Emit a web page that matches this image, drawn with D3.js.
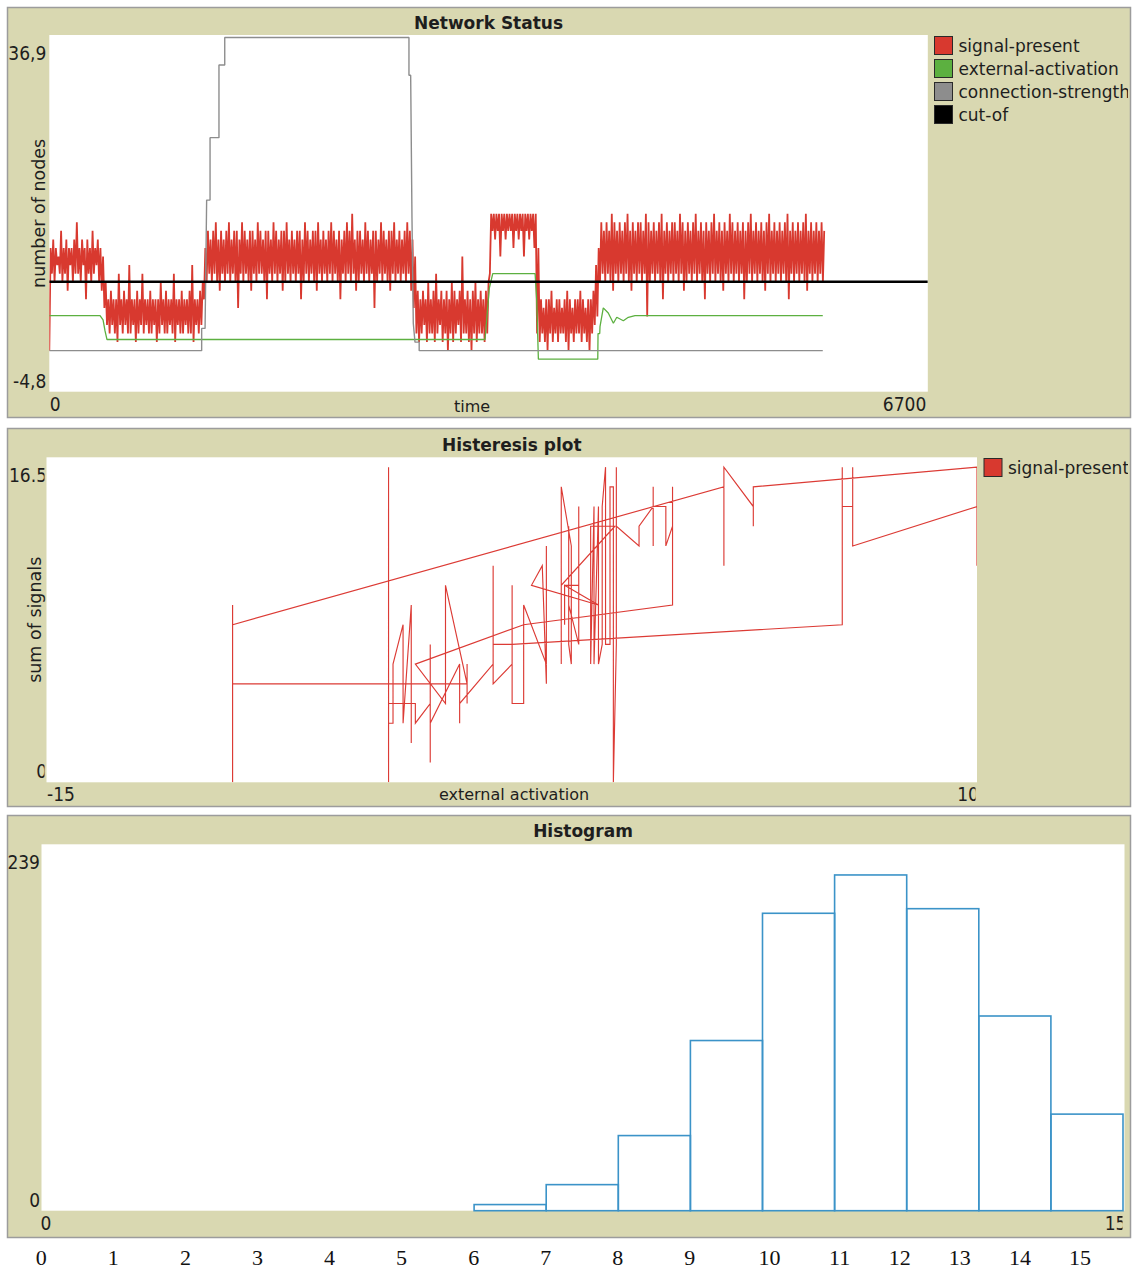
<!DOCTYPE html>
<html>
<head>
<meta charset="utf-8">
<title>Network Status</title>
<script src="https://cdn.jsdelivr.net/npm/d3@7"></script>
<style>
  body { margin: 0; background: #fff; }
  svg { display: block; }
</style>
</head>
<body>
<div id="chart"></div>
<script>
// ---------- Network Status ----------
const netTimeRange = [0, 6700]
const netValueRange = [-4.8, 36.9]
const netXLabels = ["0", "6700"]
const netYLabels = ["-4,8", "36,9"]

// signal-present: lowest and highest reading in each 20-tick window, by regime
const signalWindow = 20
const signalLowA = [0, 9, 8, 10, 9, 8, 9, 7, 10, 8, 9, 9, 8, 10, 6, 9, 8, 9, 10, 8, 7]
const signalHighA = [12, 13, 12, 11, 14, 12, 13, 12, 12, 13, 15, 12, 13, 12, 13, 12, 14, 12, 13, 12, 11]
const signalLowB = [5, 3, 2, 3, 2, 1, 3, 2, 3, 2, 2, 3, 1, 2, 3, 2, 3, 2, 2, 3,
                    1, 2, 3, 2, 2, 3, 2, 1, 3, 2, 2, 3, 2, 2, 1, 3, 2, 3]
const signalHighB = [8, 6, 7, 6, 6, 9, 6, 7, 6, 10, 6, 6, 7, 6, 9, 6, 6, 7, 6, 6,
                     6, 8, 6, 7, 6, 6, 9, 6, 6, 7, 6, 6, 7, 10, 6, 6, 7, 8]
const signalLowC = [6, 8, 9, 8, 9, 8, 7, 9, 8, 9, 8, 9, 8, 5, 9, 8, 9, 8, 7, 9,
                    8, 9, 9, 8, 6, 9, 8, 9, 8, 9, 7, 8, 9, 8, 9, 8, 9, 6, 8, 9,
                    8, 9, 8, 7, 9, 8, 9, 8, 9, 8, 9, 8, 6, 9, 8, 9, 8, 9, 7, 8,
                    9, 8, 9, 8, 9, 5, 8, 9, 8, 9, 8, 7, 9, 8, 9, 8, 9, 8, 9, 7]
const signalHighC = [12, 14, 13, 14, 15, 13, 14, 13, 14, 15, 13, 14, 14, 13, 15, 14, 13, 14, 14, 13,
                     15, 14, 13, 14, 14, 13, 15, 14, 13, 14, 14, 15, 13, 14, 13, 14, 14, 13, 15, 14,
                     13, 14, 14, 15, 13, 14, 13, 14, 15, 14, 13, 14, 13, 14, 15, 14, 16, 13, 14, 14,
                     13, 15, 14, 13, 14, 14, 13, 15, 14, 13, 14, 14, 15, 13, 14, 13, 14, 15, 14, 13]
const signalLowD = [5, 2, 1, 2, 3, 1, 2, 2, 1, 2, 3, 1, 2, 0, 2, 1, 2, 3, 1, 2,
                    2, 1, 0, 2, 1, 2, 2, 1, 2]
const signalHighD = [11, 7, 6, 7, 6, 8, 6, 7, 9, 6, 7, 6, 7, 6, 8, 7, 6, 7, 11, 6,
                     7, 6, 7, 8, 6, 7, 6, 7, 8]
const signalLowE = [9, 14, 13, 14, 11, 14, 13, 14, 14, 12, 14, 13, 14, 11, 14, 13, 14, 12]
const signalHighE = [16, 16, 16, 16, 16, 16, 16, 16, 16, 16, 16, 16, 16, 16, 16, 16, 16, 16]
const signalLowF = [2, 1, 2, 1, 0, 2, 1, 2, 1, 2, 2, 1, 0, 2, 1, 2, 2, 1, 2, 1, 0, 2, 3, 4]
const signalHighF = [12, 6, 5, 6, 6, 7, 5, 6, 6, 5, 6, 7, 6, 5, 6, 6, 7, 6, 5, 6, 6, 7, 10, 12]
const signalLowG = [8, 9, 8, 9, 8, 7, 9, 8, 9, 8, 9, 8, 7, 9, 8, 9, 8, 9, 4, 8,
                    9, 8, 9, 8, 6, 9, 8, 9, 8, 9, 8, 9, 7, 8, 9, 8, 9, 8, 9, 8,
                    6, 9, 8, 9, 8, 9, 8, 7, 9, 8, 9, 8, 9, 8, 9, 6, 8, 9, 8, 9,
                    8, 9, 8, 7, 9, 8, 9, 8, 9, 8, 9, 8, 6, 9, 8, 9, 8, 9, 8, 7,
                    9, 8, 9, 8, 9, 8]
const signalHighG = [15, 14, 15, 14, 16, 15, 14, 15, 14, 15, 16, 14, 15, 14, 15, 15, 14, 16, 15, 14,
                     15, 14, 15, 16, 14, 15, 14, 15, 15, 14, 16, 15, 14, 15, 14, 15, 16, 14, 15, 14,
                     15, 14, 15, 16, 14, 15, 14, 15, 14, 16, 15, 14, 15, 14, 15, 14, 15, 16, 14, 15,
                     14, 15, 14, 15, 16, 14, 15, 14, 15, 14, 15, 16, 14, 15, 14, 15, 14, 15, 16, 14,
                     15, 14, 15, 14, 15, 14]

// [tick, value]
const externalActivation = [[0, 4.1], [387, 4.1], [410, 3.6], [425, 2.3], [440, 1.3], [3323, 1.3],
  [3356, 7.3], [3382, 9.0], [3705, 9.0], [3717, 6.0], [3730, -1.0], [4183, -1.0], [4185, 2.0],
  [4198, 2.0], [4200, 2.8], [4225, 5.0], [4263, 4.4], [4302, 3.2], [4328, 3.9], [4378, 3.5],
  [4416, 3.9], [4467, 4.1], [5899, 4.1]]
const connectionStrength = [[0, 0], [1162, 0], [1162, 2.6], [1188, 2.6], [1200, 17.6], [1226, 17.6],
  [1226, 24.9], [1294, 24.9], [1294, 33.4], [1338, 33.4], [1338, 36.6], [2743, 36.6], [2743, 32.2],
  [2756, 32.2], [2766, 15.5], [2776, 3.2], [2789, 1.0], [2821, 1.0], [2821, 0], [5899, 0]]
const cutOff = [[0, 8.05], [6700, 8.05]]

const netPens = ["signal-present", "external-activation", "connection-strength", "cut-of"]
const netColors = ["#d8392f", "#5cb040", "#8d8d8d", "#000000"]

// ---------- Histeresis plot ----------
const hystXRange = [-15, 10]
const hystYRange = [0, 16.5]
const hystXLabels = ["-15", "10"]
const hystYLabels = ["0", "16.5"]
const hystActivation = [-5.81, -5.81, -5.81, -5.69, -5.69, -5.42, -5.42, -5.20, -5.20, -5.20,
  -5.81, -5.09, -5.09, -4.69, -4.69, -4.69, -4.69, -3.90, -3.90, -3.90,
  -3.00, -3.00, -3.00, -2.49, -2.49, -2.49, -2.18, -2.18, -1.57, -1.57,
  -1.57, -1.68, -1.97, -0.17, -1.08, -1.08, -1.08, -0.70, -0.70, -0.70,
  -0.97, -0.97, -0.97, -0.90, -0.90, -1.17, -1.17, -1.17, 0.27, -0.38,
  -0.38, -0.29, -0.29, -0.17, -0.17, -0.07, -0.07, 0.02, 0.02, 0.14,
  0.14, 0.23, 0.23, 0.31, 0.31, 0.31, 0.92, 0.92, 1.30, 1.30,
  1.30, 1.30, 1.64, 1.64, 1.82, 1.82, 1.82, -2.18, -5.09, -4.28,
  -4.28, -3.70, -3.70, -3.70, -3.70, -4.33, -10, -10, -10, -10,
  3.20, 3.20, 3.20, 3.20, 3.99, 3.99, 3.99, 10, 10, 10,
  6.66, 6.66, 6.66, 6.38, 6.38, 6.38, -2.49, -3.00]
const hystSignals = [16, 0, 3, 3, 6, 8, 3, 9, 2, 4,
  4, 4, 3, 4, 7, 1, 3, 6, 3, 4,
  6, 11, 5, 6, 10, 4, 4, 9, 6, 12,
  5, 11, 10, 9, 10, 8, 10, 10, 14, 7,
  9, 13, 7, 6, 12, 15, 6, 10, 13, 13,
  6, 14, 6, 14, 6, 7, 14, 16, 7, 7,
  15, 15, 0, 7, 16, 13, 12, 13, 14, 15,
  12, 14, 14, 12, 13, 15, 9, 8, 6, 4,
  10, 5, 6, 4, 5, 5, 5, 0, 9, 8,
  15, 16, 11, 16, 14, 13, 15, 16, 11, 14,
  12, 16, 14, 14, 16, 8, 7, 7]

// ---------- Histogram ----------
const histRange = [0, 15]
const histYRange = [0, 239]
const histXLabels = ["0", "15"]
const histYLabels = ["0", "239"]
const histCounts = [0, 0, 0, 0, 0, 0, 4, 17, 49, 111, 194, 219, 197, 127, 63]
const bottomTicks = d3.range(0, 16)

// ---------- page ----------
const BEIGE = "#d9d8b1"
const INK = "#1e1e1e"
const SANS = "'DejaVu Sans', Verdana, sans-serif"
const NUM = "'Liberation Sans Narrow', 'DejaVu Sans Condensed', sans-serif"

const svg = d3.select("#chart").append("svg")
  .attr("width", 1135)
  .attr("height", 1271)
  .style("background", "#fff")

const defs = svg.append("defs")
function clipRect(id, x0, y0, x1, y1) {
  defs.append("clipPath").attr("id", id).append("rect")
    .attr("x", x0).attr("y", y0).attr("width", x1 - x0).attr("height", y1 - y0)
  return "url(#" + id + ")"
}

function frame(top, bottom, title, p, titleBase) {
  svg.append("rect")
    .attr("x", 7.5).attr("y", top + 0.5)
    .attr("width", 1123).attr("height", bottom - top)
    .attr("fill", BEIGE).attr("stroke", "#9c9c9c").attr("stroke-width", 1.5)
  svg.append("rect")
    .attr("x", p.left).attr("y", p.top)
    .attr("width", p.right - p.left).attr("height", p.bottom - p.top)
    .attr("fill", "#fff")
  svg.append("text")
    .attr("x", (p.left + p.right) / 2).attr("y", titleBase)
    .attr("text-anchor", "middle")
    .attr("font-family", SANS).attr("font-weight", "bold").attr("font-size", 17)
    .attr("fill", INK)
    .text(title)
}

// min / max labels the way the plot widget shows them
function rangeLabels(id, p, x, y, xLabels, yLabels, o) {
  const gy = svg.append("g").attr("clip-path", clipRect(id + "-y", 0, p.top - 5, o.yClip, p.bottom + 5))
  gy.append("g")
    .attr("transform", "translate(" + (p.left - o.yPad) + ",0)")
    .call(d3.axisLeft(y).tickValues(y.domain()).tickSize(0).tickPadding(0)
      .tickFormat((d, i) => yLabels[i]))
    .call(g => g.select(".domain").remove())
    .call(g => g.selectAll("text")
      .attr("dy", null)
      .attr("y", (d, i) => i ? 24 : -4.5)
      .attr("font-family", NUM).attr("font-size", 19).attr("fill", INK))

  const gx = svg.append("g").attr("clip-path", clipRect(id + "-x", 0, p.bottom, o.xClip, p.bottom + 30))
  gx.append("g")
    .attr("transform", "translate(0," + p.bottom + ")")
    .call(d3.axisBottom(x).tickValues(x.domain()).tickSize(0).tickPadding(0)
      .tickFormat((d, i) => xLabels[i]))
    .call(g => g.select(".domain").remove())
    .call(g => g.selectAll("text")
      .attr("dy", null)
      .attr("y", 19)
      .attr("x", (d, i) => i ? o.xEnd : o.xStart)
      .attr("text-anchor", (d, i) => i ? "end" : "start")
      .attr("font-family", NUM).attr("font-size", 19).attr("fill", INK))
}

function axisTitles(p, xTitle, xPos, xBase, yTitle, yBase) {
  svg.append("text")
    .attr("x", xPos).attr("y", xBase)
    .attr("text-anchor", "middle")
    .attr("font-family", SANS).attr("font-size", 16).attr("fill", INK)
    .text(xTitle)
  svg.append("text")
    .attr("transform", "translate(" + yBase + "," + (p.top + p.bottom) / 2 + ") rotate(-90)")
    .attr("text-anchor", "middle")
    .attr("font-family", SANS).attr("font-size", 17.5).attr("fill", INK)
    .text(yTitle)
}

function legend(x, y, names, colors) {
  const g = svg.append("g").attr("clip-path", clipRect("legend" + y, 0, 0, 1128, 1271))
  const item = g.selectAll("g").data(names).enter().append("g")
    .attr("transform", (d, i) => "translate(" + x + "," + (y + i * 23) + ")")
  item.append("rect")
    .attr("x", 0.5).attr("y", 0.5).attr("width", 18).attr("height", 18)
    .attr("fill", (d, i) => colors[i]).attr("stroke", "#2a2a2a").attr("stroke-width", 1)
  item.append("text")
    .attr("x", 24.5).attr("y", 15.5)
    .attr("font-family", SANS).attr("font-size", 17).attr("fill", INK)
    .text(d => d)
}

// ===== panel 1: Network Status =====
const net = {left: 49.3, right: 927.8, top: 35, bottom: 391.7}
frame(7, 417, "Network Status", net, 29)

const xNet = d3.scaleLinear().domain(netTimeRange).range([net.left, net.right])
const yNet = d3.scaleLinear().domain(netValueRange).range([net.bottom, net.top])

// each window is drawn low at its start and high half a window later
const signalLows = [].concat(signalLowA, signalLowB, signalLowC, signalLowD, signalLowE, signalLowF, signalLowG)
const signalHighs = [].concat(signalHighA, signalHighB, signalHighC, signalHighD, signalHighE, signalHighF, signalHighG)
const signalPresent = []
signalLows.forEach((lo, k) => {
  signalPresent.push([k * signalWindow, lo])
  signalPresent.push([k * signalWindow + signalWindow / 2, signalHighs[k]])
})

const netLine = d3.line().x(d => xNet(d[0])).y(d => yNet(d[1]))
const netPlot = svg.append("g").attr("clip-path", clipRect("net-plot", net.left, net.top, net.right, net.bottom))

const netSeries = [signalPresent, externalActivation, connectionStrength, cutOff]
const netWidths = [1.8, 1.3, 1.4, 2.6]
netPlot.selectAll("path").data(netSeries).enter().append("path")
  .attr("d", netLine)
  .attr("fill", "none")
  .attr("stroke", (d, i) => netColors[i])
  .attr("stroke-width", (d, i) => netWidths[i])
  .attr("stroke-linejoin", "bevel")

rangeLabels("net", net, xNet, yNet, netXLabels, netYLabels,
  {yPad: 3, yClip: net.left, xClip: 1128, xStart: 0, xEnd: -2})
axisTitles(net, "time", 472, 411.5, "number of nodes", 45)
legend(934, 36, netPens, netColors)

// ===== panel 2: Histeresis plot =====
const hyst = {left: 46.5, right: 977, top: 457.3, bottom: 782.3}
frame(428, 806, "Histeresis plot", hyst, 450.5)

const xHyst = d3.scaleLinear().domain(hystXRange).range([hyst.left, hyst.right])
const yHyst = d3.scaleLinear().domain(hystYRange).range([hyst.bottom, hyst.top])

const hystPoints = hystActivation.map((a, i) => [a, hystSignals[i]])
svg.append("g").attr("clip-path", clipRect("hyst-plot", hyst.left, hyst.top, hyst.right, hyst.bottom))
  .append("path")
  .datum(hystPoints)
  .attr("d", d3.line().x(d => xHyst(d[0])).y(d => yHyst(d[1])))
  .attr("fill", "none")
  .attr("stroke", "#dc3b35")
  .attr("stroke-width", 1.15)

rangeLabels("hyst", hyst, xHyst, yHyst, hystXLabels, hystYLabels,
  {yPad: -0.5, yClip: 44.5, xClip: 975.5, xStart: 0, xEnd: 1.5})
axisTitles(hyst, "external activation", 514, 800, "sum of signals", 41)
legend(983.5, 458, ["signal-present"], [netColors[0]])

// ===== panel 3: Histogram =====
const hist = {left: 41.5, right: 1124.5, top: 844.3, bottom: 1210.7}
frame(815, 1237, "Histogram", hist, 836.5)

const xHist = d3.scaleLinear().domain(histRange).range([hist.left, 1123])
const yHist = d3.scaleLinear().domain(histYRange).range([hist.bottom, hist.top])

svg.append("g").selectAll("rect")
  .data(histCounts.map((c, i) => ({bin: i, count: c})).filter(d => d.count > 0))
  .enter().append("rect")
  .attr("x", d => xHist(d.bin))
  .attr("y", d => yHist(d.count))
  .attr("width", d => xHist(d.bin + 1) - xHist(d.bin))
  .attr("height", d => yHist(0) - yHist(d.count))
  .attr("fill", "none")
  .attr("stroke", "#3b93c8")
  .attr("stroke-width", 1.6)

rangeLabels("hist", hist, xHist, yHist, histXLabels, histYLabels,
  {yPad: 1.5, yClip: hist.left, xClip: 1122.5, xStart: -1.5, xEnd: 3})

// hand-placed number row under the histogram
const bottomX = d3.scaleLinear().domain([0, 9, 10, 11, 15]).range([41.3, 689.8, 769.5, 839.7, 1080])
svg.append("g").selectAll("text").data(bottomTicks).enter().append("text")
  .attr("x", d => bottomX(d))
  .attr("y", 1265)
  .attr("text-anchor", "middle")
  .attr("font-family", "'Liberation Serif', 'Times New Roman', serif")
  .attr("font-size", 22)
  .attr("fill", "#111")
  .text(d => d)
</script>
</body>
</html>
